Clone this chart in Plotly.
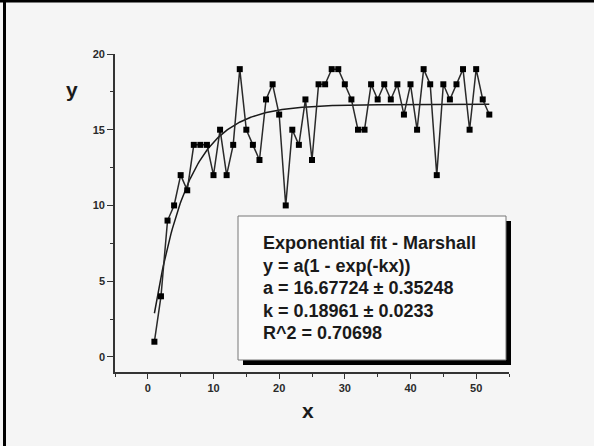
import numpy as np
import plotly.graph_objects as go

# Observed values
x_obs = list(range(1, 53))
y_obs = [1, 4, 9, 10, 12, 11, 14, 14, 14, 12,
         15, 12, 14, 19, 15, 14, 13, 17, 18, 16,
         10, 15, 14, 17, 13, 18, 18, 19, 19, 18,
         17, 15, 15, 18, 17, 18, 17, 18, 16, 18,
         15, 19, 18, 12, 18, 17, 18, 19, 15, 19,
         17, 16]

# Fitted parameters: y = a(1 - exp(-kx))
fit_a = 16.67724
fit_a_err = 0.35248
fit_k = 0.18961
fit_k_err = 0.0233
fit_r2 = 0.70698

x_tick_vals = [0, 10, 20, 30, 40, 50]
y_tick_vals = [0, 5, 10, 15, 20]

W, H = 594, 446
L, R, T, B = 115, 85, 54, 74
pw, ph = W - L - R, H - T - B


def px(x):
    return (x - L) / pw


def py(y):
    return (H - B - y) / ph


x_fit = np.linspace(min(x_obs), max(x_obs), 300)
y_fit = fit_a * (1 - np.exp(-fit_k * x_fit))

fig = go.Figure()
fig.add_trace(go.Scatter(
    x=x_fit, y=y_fit, mode="lines",
    line=dict(color="#1a1a1a", width=1.5), hoverinfo="skip"))
fig.add_trace(go.Scatter(
    x=x_obs, y=y_obs, mode="lines+markers",
    line=dict(color="#2a2a2a", width=1.5),
    marker=dict(symbol="square", size=6, color="#000000")))

bg = "#f5f5f5"
tickfont = dict(family="Liberation Sans, Arial, sans-serif", size=11,
                color="#2a2a2a", weight="bold")

fig.update_layout(
    width=W, height=H,
    margin=dict(l=L, r=R, t=T, b=B),
    paper_bgcolor=bg, plot_bgcolor=bg,
    showlegend=False,
    xaxis=dict(range=[-5, 55], tickvals=x_tick_vals, ticks="outside",
               ticklen=5, tickwidth=1.4, tickcolor="#333333",
               showline=True, linecolor="#333333", linewidth=1.6,
               showgrid=False, zeroline=False, tickfont=tickfont,
               minor=dict(ticks="outside", ticklen=3, dtick=5,
                          tickcolor="#333333", tickwidth=1.2, showgrid=False)),
    yaxis=dict(range=[-1, 20], tickvals=y_tick_vals, ticks="outside",
               ticklen=6, tickwidth=1.4, tickcolor="#333333",
               showline=True, linecolor="#333333", linewidth=1.6,
               showgrid=False, zeroline=False, tickfont=tickfont,
               minor=dict(ticks="outside", ticklen=3, dtick=2.5,
                          tickcolor="#333333", tickwidth=1.2, showgrid=False)),
)

shapes = []
# Page frame lines (top and left)
shapes.append(dict(type="rect", xref="paper", yref="paper",
                   x0=px(-5), x1=px(W + 5), y0=py(2.5), y1=py(-5),
                   fillcolor="#000000", line=dict(width=0), layer="above"))
shapes.append(dict(type="rect", xref="paper", yref="paper",
                   x0=px(3), x1=px(6), y0=py(H + 5), y1=py(-5),
                   fillcolor="#000000", line=dict(width=0), layer="above"))

# Annotation box with drop shadow
bx0, bx1, by0, by1 = 238, 506, 216, 360
shapes.append(dict(type="rect", xref="paper", yref="paper",
                   x0=px(bx0 + 5), x1=px(bx1 + 5), y0=py(by1 + 5), y1=py(by0 + 5),
                   fillcolor="#000000", line=dict(width=0), layer="above"))
shapes.append(dict(type="rect", xref="paper", yref="paper",
                   x0=px(bx0), x1=px(bx1), y0=py(by1), y1=py(by0),
                   fillcolor="#fbfbfb", line=dict(color="#777777", width=1),
                   layer="above"))
fig.update_layout(shapes=shapes)

box_lines = [
    "Exponential fit - Marshall",
    "y = a(1 - exp(-kx))",
    f"a = {fit_a} \u00b1 {fit_a_err}",
    f"k = {fit_k} \u00b1 {fit_k_err}",
    f"R^2 = {fit_r2}",
]
line_y = [243, 266, 288, 311, 333]
textfont = dict(family="Liberation Sans, Arial, sans-serif", size=18,
                color="#1a1a1a", weight="bold")
annotations = []
for txt, yy in zip(box_lines, line_y):
    annotations.append(dict(xref="paper", yref="paper", x=px(261), y=py(yy),
                            xanchor="left", yanchor="middle", text=txt,
                            showarrow=False, font=textfont))

axis_title_font = dict(family="Liberation Sans, Arial, sans-serif", size=21,
                       color="#1a1a1a", weight="bold")
annotations.append(dict(xref="paper", yref="paper", x=px(308), y=py(410),
                        xanchor="center", yanchor="middle", text="x",
                        showarrow=False, font=axis_title_font))
annotations.append(dict(xref="paper", yref="paper", x=px(72), y=py(89),
                        xanchor="center", yanchor="middle", text="y",
                        showarrow=False, font=axis_title_font))
fig.update_layout(annotations=annotations)

fig.write_html("out.html")
